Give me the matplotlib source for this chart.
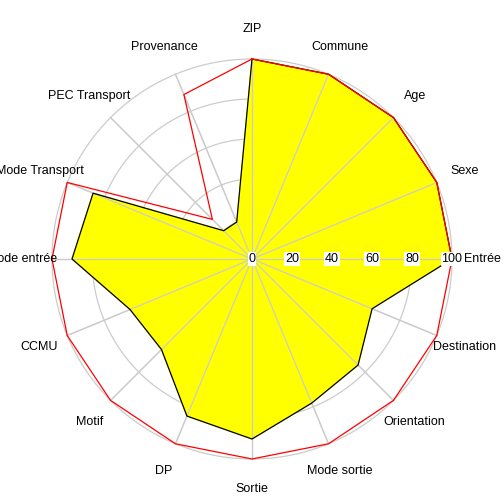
import matplotlib
matplotlib.use('Agg')
import matplotlib.pyplot as plt
import numpy as np

plt.rcParams['font.family'] = ['Liberation Sans', 'DejaVu Sans']

# données du radar
labels = ['ZIP', 'Commune', 'Age', 'Sexe', 'Entrée', 'Destination', 'Orientation',
          'Mode sortie', 'Sortie', 'DP', 'Motif', 'CCMU', 'Mode entrée',
          'Mode Transport', 'PEC Transport', 'Provenance']
values = [100, 100, 100, 100, 100, 65, 75, 78, 90, 85, 64, 66, 90, 86, 20, 20]
max_values = [100, 100, 100, 100, 100, 100, 100, 100, 100, 100, 100, 100, 100, 100, 28, 89]
rticks = [0, 20, 40, 60, 80, 100]

n = len(labels)
theta = np.arange(n) * 2 * np.pi / n
theta_c = np.append(theta, theta[0])

fig = plt.figure(figsize=(5.04, 5.04), dpi=100)
ax = fig.add_axes([2 / 504, -5 / 504, 500 / 504, 500 / 504], projection='polar')
ax.set_theta_zero_location('N')
ax.set_theta_direction(-1)
ax.set_ylim(0, 125)
ax.axis('off')

# grille
grid_col = '#cccccc'
circ = np.linspace(0, 2 * np.pi, 400)
for r in rticks[1:]:
    ax.plot(circ, np.full_like(circ, r), color=grid_col, lw=0.9, zorder=1)
for t in theta:
    ax.plot([t, t], [0, 100], color=grid_col, lw=0.9, zorder=1)

# polygones
v = np.append(values, values[0])
m = np.append(max_values, max_values[0])
ax.fill(theta_c, v, color='yellow', zorder=2)
ax.plot(theta_c, v, color='black', lw=0.9, zorder=3)
ax.plot(theta_c, m, color='red', lw=0.9, zorder=4)
# grille au-dessus du remplissage
for r in rticks[1:]:
    ax.plot(circ, np.full_like(circ, r), color=grid_col, lw=0.6, zorder=2.5, alpha=0.0)
for t in theta:
    ax.plot([t, t], [0, 100], color=grid_col, lw=0.9, zorder=2.5)

# étiquettes
for t, lab in zip(theta, labels):
    ax.text(t, 115, lab, ha='center', va='center', fontsize=9, zorder=5, clip_on=False)
for r in rticks:
    ax.text(np.pi / 2, r, str(r), ha='center', va='center', fontsize=9, zorder=6,
            bbox=dict(facecolor='white', edgecolor='none', pad=0.5))

plt.savefig('out.png', dpi=100)
